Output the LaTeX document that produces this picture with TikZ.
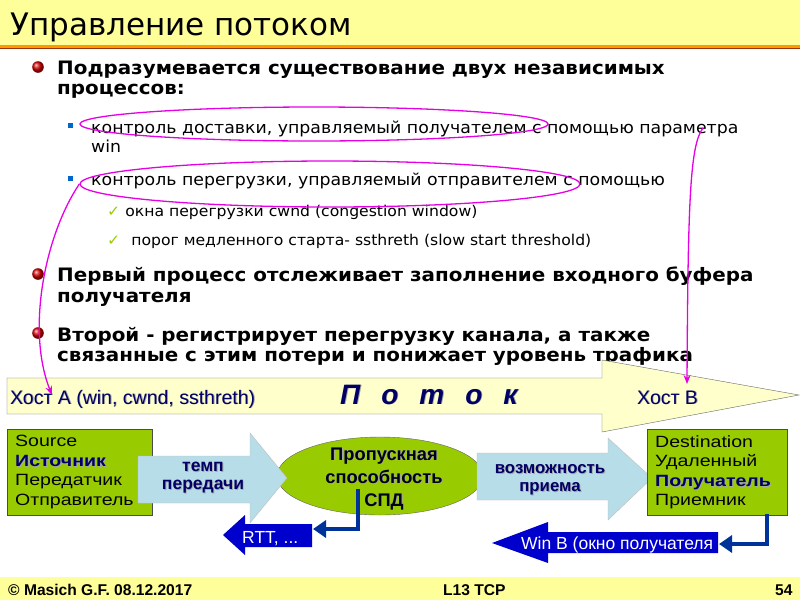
\documentclass[tikz,border=0pt]{standalone}
\usepackage{fontspec}
\setmainfont{DejaVu Sans}
\newfontfamily\bulfont[FakeStretch=1.075]{DejaVu Sans}
\newfontfamily\subfont[FakeStretch=1.05]{DejaVu Sans}
\newfontfamily\arialfont{Liberation Sans}
\newfontfamily\arialwide[FakeStretch=1.2]{Liberation Sans}
\usetikzlibrary{arrows.meta,shapes.geometric}

\definecolor{titlebar}{RGB}{255,255,153}
\definecolor{barline}{RGB}{255,153,0}
\definecolor{barred}{RGB}{153,51,0}
\definecolor{srcgreen}{RGB}{153,204,0}
\definecolor{pipeblue}{RGB}{183,221,232}
\definecolor{darkblue}{RGB}{0,0,204}
\definecolor{linkblue}{RGB}{0,51,153}
\definecolor{navytext}{RGB}{0,0,102}
\definecolor{flowfill}{RGB}{255,255,204}
\definecolor{markpink}{RGB}{230,0,230}
\definecolor{squareblue}{RGB}{0,102,204}

% text with a soft drop shadow
\newcommand{\shad}[2][navytext]{\leavevmode\rlap{\kern0.9pt\raisebox{-0.9pt}{\color{black!35}#2}}{\color{#1}#2}}

\begin{document}
\begin{tikzpicture}[x=1pt,y=-1pt,
  every node/.style={inner sep=0pt},
  ttl/.style={anchor=base west, font=\fontsize{31}{34}\selectfont},
  bul/.style={anchor=base west, font=\bulfont\fontsize{18.5}{20}\selectfont\bfseries},
  sub/.style={anchor=base west, font=\subfont\fontsize{16.5}{19}\selectfont},
  chk/.style={anchor=base west, font=\subfont\fontsize{14.9}{16}\selectfont},
  ring/.style={draw=markpink, line width=1.3pt, ellipse},
  pointer/.style={draw=markpink, line width=1.3pt, -{Stealth[length=9pt,width=7pt]}},
  box/.style={draw=black!70, fill=srcgreen, minimum width=145pt, minimum height=86pt,
    anchor=north west, text width=129pt, align=left, inner xsep=8pt,
    font=\arialwide\fontsize{16.3}{19.5}\selectfont},
  pipe/.style={draw=black!25, fill=pipeblue},
  back/.style={fill=darkblue},
  link/.style={draw=linkblue, line width=3.5pt, -{Triangle[length=13pt,width=17pt]}},
  lbl/.style={font=\arialfont\fontsize{17.5}{18}\selectfont\bfseries, align=center},
  host/.style={anchor=base west, font=\arialfont\fontsize{19.5}{20}\selectfont},
  foot/.style={anchor=base west, font=\arialfont\fontsize{15.6}{16}\selectfont\bfseries},
  backtxt/.style={anchor=base west, font=\arialfont\fontsize{17.5}{18}\selectfont, text=white},
]
  \useasboundingbox (0,0) rectangle (800,600);
  \fill[white] (0,0) rectangle (800,600);

  % title bar and footer
  \fill[titlebar] (0,0) rectangle (800,45);
  \fill[barline] (0,45) rectangle (800,47.7);
  \fill[barred] (0,47.7) rectangle (800,49.3);
  \fill[titlebar] (0,577) rectangle (800,600);
  \node (title) [ttl] at (10,35) {Управление потоком};

  % bullets
  \shade[ball color=red!85!black] (38,67) circle (5.8);
  \node (b1a) [bul] at (57,74) {Подразумевается существование двух независимых};
  \node (b1b) [bul] at (57,94) {процессов:};
  \fill[squareblue] (67.5,122.5) rectangle (72.5,127.5);
  \node (s1a) [sub] at (91,133) {контроль доставки, управляемый получателем с помощью параметра};
  \node (s1b) [sub] at (91,152) {win};
  \fill[squareblue] (67.5,175.5) rectangle (72.5,180.5);
  \node (s2) [sub] at (91,185) {контроль перегрузки, управляемый отправителем с помощью};
  \node (c1) [chk] at (107,216) {\textcolor{srcgreen}{✓}\hspace{5pt}окна перегрузки cwnd (congestion window)};
  \node (c2) [chk] at (107,245) {\textcolor{srcgreen}{✓}\hspace{11pt}порог медленного старта- ssthreth (slow start threshold)};
  \shade[ball color=red!85!black] (38,274) circle (5.8);
  \node (b2a) [bul] at (57,281) {Первый процесс отслеживает заполнение входного буфера};
  \node (b2b) [bul] at (57,302) {получателя};
  \shade[ball color=red!85!black] (38,333) circle (5.8);
  \node (b3a) [bul] at (57,341) {Второй - регистрирует перегрузку канала, а также};
  \node (b3b) [bul] at (57,361) {связанные с этим потери и понижает уровень трафика};

  % flow arrow
  \draw[draw=black!60, fill=flowfill] (7,378) -- (602,378) -- (602,360) -- (799,395)
    -- (602,432) -- (602,414) -- (7,414) -- cycle;
  \node (hostA) [host] at (10,404) {\shad{Хост А (win, cwnd, ssthreth)}};
  \node (flow) [host, font=\arialfont\fontsize{28}{28}\selectfont\bfseries\itshape] at (340,404)
    {\shad{П\hspace{21pt}о\hspace{21pt}т\hspace{21pt}о\hspace{21pt}к}};
  \node (hostB) [host] at (637,404) {\shad{Хост В}};

  % lower diagram
  \node (src) [box] at (7,429) {Source\\\shad{\textbf{Источник}}\\Передатчик\\Отправитель};
  \node (spd) [ellipse, draw=black!60, fill=srcgreen, minimum width=206pt, minimum height=78pt] at (380,476) {};
  \draw[pipe] (138,456) -- (250,456) -- (250,433) -- (287,478) -- (250,523) -- (250,503) -- (138,503) -- cycle;
  \node (rate) [lbl] at (203,478) {\shad{темп}\\\shad{передачи}};
  \node (spdtxt) [lbl, font=\arialfont\fontsize{18.3}{23}\selectfont\bfseries] at (384,479)
    {\shad[black!90!blue]{Пропускная}\\\shad[black!90!blue]{способность}\\\shad[black!90!blue]{СПД}};
  \draw[pipe] (477,453) -- (608,453) -- (608,438) -- (652,478) -- (608,520) -- (608,500) -- (477,500) -- cycle;
  \node (recv) [lbl, font=\arialfont\fontsize{16.8}{18}\selectfont\bfseries] at (550,480) {\shad{возможность}\\\shad{приема}};
  \node (dst) [box, minimum width=140pt, text width=124pt] at (647,429) {Destination\\Удаленный\\\shad{\textbf{Получатель}}\\Приемник};

  % feedback arrows
  \fill[back] (312,524) -- (245,524) -- (245,515) -- (223,535) -- (245,555) -- (245,547) -- (312,547) -- cycle;
  \node (rtt) [backtxt] at (242,543) {RTT, ...};
  \fill[back] (718,532) -- (548,532) -- (548,522) -- (492,543) -- (548,563) -- (548,553) -- (718,553) -- cycle;
  \node (winB) [backtxt] at (521,549) {Win B (окно получателя};
  \coordinate (spdout) at (358,489);
  \coordinate (rttin) at (313,529);
  \coordinate (dstout) at (767,514);
  \coordinate (winin) at (719,544);
  \draw[link] (spdout) |- (rttin);
  \draw[link] (dstout) |- (winin);

  % footer texts
  \node (copy) [foot] at (8,595) {© Masich G.F. 08.12.2017};
  \node (lect) [foot] at (443,595) {L13 TCP};
  \node (page) [foot] at (775,595) {54};

  % pink marks
  \node (ring1) [ring, minimum width=468pt, minimum height=34pt] at (314,124) {};
  \node (ring2) [ring, minimum width=500pt, minimum height=46pt] at (330,184) {};
  \coordinate (tipA) at (52,395);
  \coordinate (startB) at (703,128);
  \coordinate (tipB) at (687,384);
  \draw[pointer] (ring2.west) .. controls (45,235) and (26,330) .. (tipA);
  \draw[pointer] (startB) .. controls (690,145) and (688,200) .. (tipB);
\end{tikzpicture}
\end{document}
